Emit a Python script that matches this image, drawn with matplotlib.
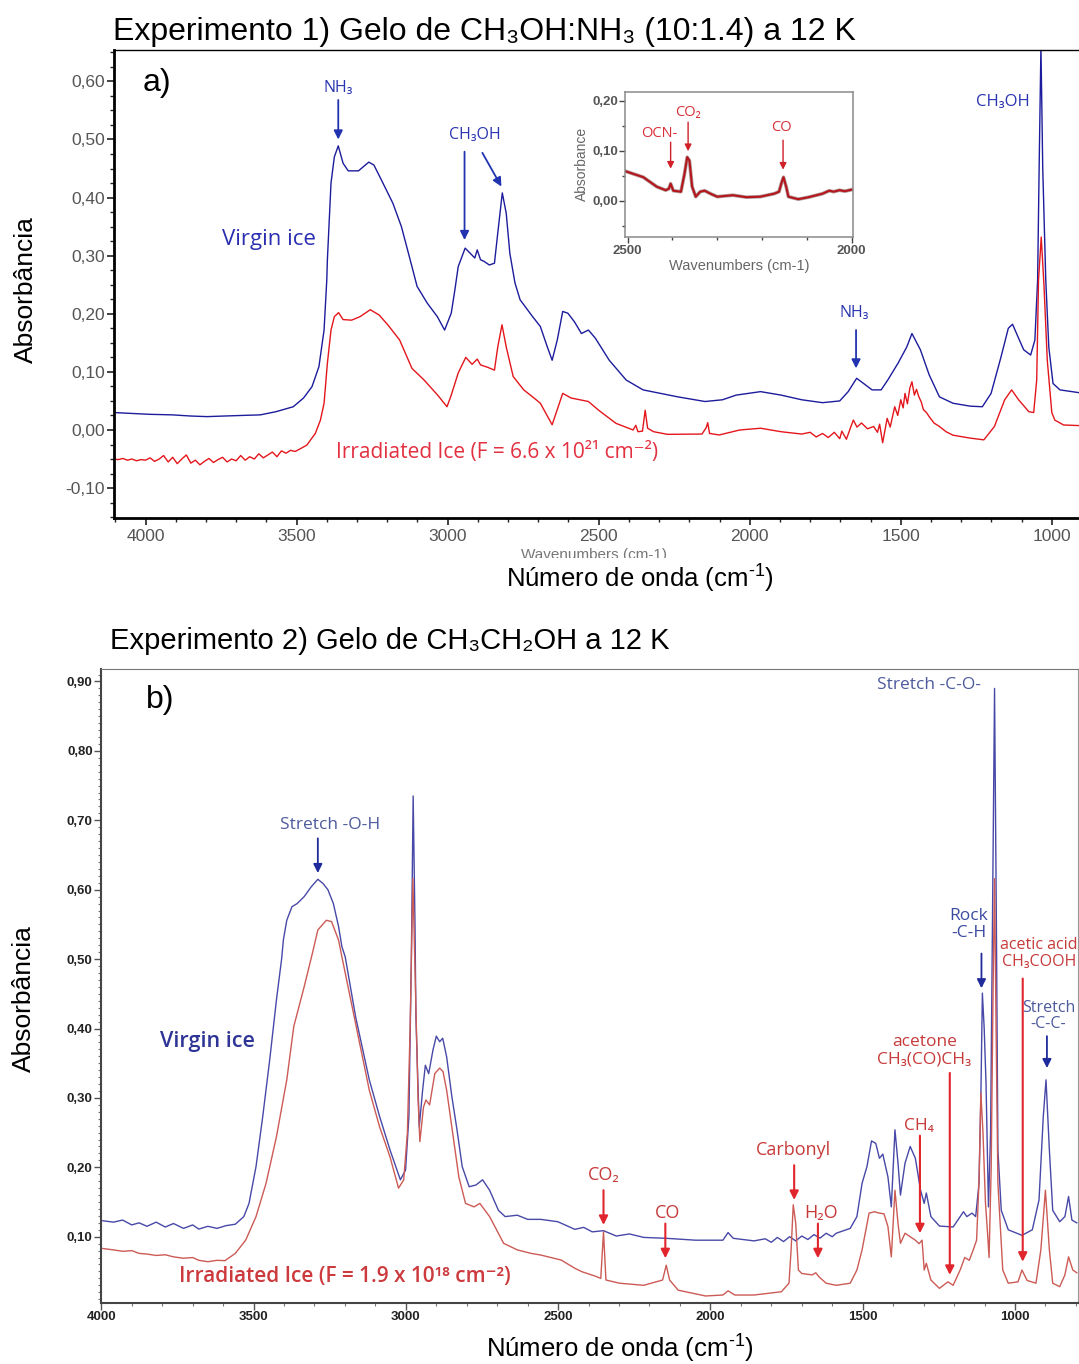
import matplotlib
matplotlib.use("Agg")
import matplotlib.pyplot as plt
from matplotlib.ticker import MultipleLocator, FuncFormatter, FixedLocator
from matplotlib.transforms import Bbox, TransformedBbox

plt.rcParams['font.family'] = ['Liberation Sans', 'DejaVu Sans']
plt.rcParams['mathtext.fontset'] = 'custom'
plt.rcParams['mathtext.rm'] = 'Liberation Sans'
plt.rcParams['mathtext.it'] = 'Liberation Sans:italic'
plt.rcParams['mathtext.bf'] = 'Liberation Sans:bold'
ANN = ['Open Sans', 'DejaVu Sans']

# ---------------- Panel a data (Experimento 1) ----------------
a_virgin_w = [4104, 3990, 3911, 3850, 3796, 3740, 3682, 3620, 3568, 3511, 3477, 3449, 3426, 3409, 3400,
              3398, 3386, 3375, 3362, 3346, 3329, 3295, 3261, 3244, 3216, 3181, 3153, 3124, 3101, 3067,
              3034, 3010, 2988, 2976, 2965, 2942, 2925, 2910, 2902, 2891, 2879, 2862, 2845, 2834, 2819,
              2806, 2794, 2777, 2760, 2720, 2693, 2670, 2654, 2637, 2619, 2602, 2580, 2557, 2534, 2511,
              2465, 2409, 2353, 2238, 2148, 2090, 2045, 1964, 1896, 1828, 1759, 1702, 1674, 1646, 1623,
              1595, 1565, 1543, 1509, 1480, 1463, 1446, 1435, 1406, 1372, 1327, 1270, 1230, 1201, 1168,
              1144, 1130, 1110, 1093, 1070, 1056, 1047, 1042, 1036, 1030, 1020, 1010, 996, 973, 907]
a_virgin_y = [0.030, 0.027, 0.026, 0.024, 0.023, 0.024, 0.025, 0.026, 0.0315, 0.040, 0.055, 0.0745, 0.109, 0.172, 0.258,
              0.293, 0.425, 0.470, 0.489, 0.459, 0.446, 0.446, 0.461, 0.456, 0.427, 0.390, 0.350, 0.293, 0.247, 0.218,
              0.195, 0.172, 0.201, 0.241, 0.281, 0.313, 0.304, 0.296, 0.310, 0.293, 0.290, 0.284, 0.287, 0.339, 0.408,
              0.373, 0.304, 0.253, 0.224, 0.196, 0.178, 0.143, 0.120, 0.155, 0.204, 0.201, 0.186, 0.166, 0.172, 0.158,
              0.120, 0.086, 0.069, 0.057, 0.049, 0.052, 0.060, 0.066, 0.060, 0.052, 0.047, 0.050, 0.066, 0.089, 0.080,
              0.069, 0.069, 0.086, 0.115, 0.143, 0.166, 0.149, 0.138, 0.095, 0.057, 0.046, 0.041, 0.040, 0.063, 0.126,
              0.175, 0.182, 0.158, 0.138, 0.129, 0.155, 0.258, 0.450, 0.660, 0.450, 0.258, 0.143, 0.080, 0.069, 0.064]

a_irr_w = [4104, 4090, 4075, 4060, 4045, 4030, 4015, 4000, 3985, 3970, 3955, 3940, 3925, 3910, 3895, 3880,
           3865, 3850, 3835, 3820, 3805, 3790, 3775, 3760, 3745, 3730, 3715, 3700, 3685, 3670, 3655, 3640,
           3625, 3610, 3595, 3580, 3565, 3550, 3535, 3520, 3505, 3490, 3466, 3438, 3421, 3409, 3398, 3386,
           3375, 3361, 3346, 3318, 3290, 3256, 3227, 3198, 3159, 3118, 3078, 3033, 3002, 2988, 2965, 2940,
           2919, 2902, 2891, 2868, 2845, 2834, 2820, 2806, 2783, 2748, 2714, 2693, 2654, 2619, 2591, 2534,
           2500, 2443, 2386, 2377, 2370, 2355, 2346, 2338, 2318, 2272, 2158, 2144, 2139, 2133, 2101, 2033,
           1964, 1896, 1828, 1800, 1780, 1759, 1740, 1720, 1702, 1695, 1680, 1665, 1657, 1645, 1630, 1610,
           1590, 1577, 1570, 1560, 1545, 1535, 1520, 1510, 1500, 1492, 1486, 1478, 1470, 1463, 1455, 1448,
           1440, 1432, 1425, 1415, 1406, 1390, 1372, 1350, 1327, 1270, 1225, 1190, 1156, 1133, 1110, 1076,
           1060, 1050, 1044, 1035, 1026, 1015, 1000, 990, 961, 907]
a_irr_y = [-0.050, -0.051, -0.049, -0.052, -0.050, -0.053, -0.051, -0.052, -0.048, -0.054, -0.050, -0.044, -0.055, -0.047, -0.058, -0.050,
           -0.043, -0.057, -0.052, -0.060, -0.054, -0.049, -0.056, -0.051, -0.047, -0.055, -0.050, -0.053, -0.044, -0.052, -0.046, -0.050,
           -0.041, -0.048, -0.043, -0.038, -0.046, -0.036, -0.040, -0.035, -0.037, -0.033, -0.026, -0.006, 0.017, 0.046, 0.115, 0.172,
           0.195, 0.202, 0.190, 0.189, 0.195, 0.207, 0.198, 0.181, 0.155, 0.106, 0.086, 0.060, 0.040, 0.060, 0.098, 0.125,
           0.113, 0.122, 0.112, 0.108, 0.103, 0.143, 0.181, 0.143, 0.092, 0.069, 0.055, 0.046, 0.009, 0.063, 0.055, 0.049,
           0.034, 0.0115, 0.000, 0.008, -0.003, -0.002, 0.034, 0.003, -0.003, -0.0075, -0.007, 0.004, 0.0126, -0.006, -0.0086, 0.000,
           0.003, -0.003, -0.007, -0.004, -0.012, -0.006, -0.013, -0.004, -0.015, -0.002, -0.016, 0.006, 0.017, 0.005, 0.012, 0.002,
           0.006, -0.004, 0.010, -0.022, 0.020, 0.005, 0.040, 0.025, 0.052, 0.038, 0.063, 0.045, 0.072, 0.083, 0.060, 0.070,
           0.057, 0.048, 0.035, 0.030, 0.023, 0.012, 0.006, -0.003, -0.009, -0.014, -0.017, 0.006, 0.052, 0.069, 0.052, 0.0315,
           0.030, 0.086, 0.258, 0.332, 0.250, 0.120, 0.030, 0.017, 0.0086, 0.0075]

# inset (2500-2000 cm-1 of irradiated ice)
ins_w = [2505, 2465, 2435, 2415, 2408, 2404, 2398, 2381, 2373, 2367, 2362, 2356, 2348, 2338, 2328, 2315, 2300,
         2265, 2235, 2204, 2173, 2162, 2156, 2152, 2146, 2141, 2119, 2096, 2065, 2050, 2040, 2027, 2015, 2000]
ins_y = [0.059, 0.047, 0.028, 0.021, 0.024, 0.034, 0.020, 0.018, 0.054, 0.087, 0.080, 0.028, 0.008, 0.018, 0.020, 0.014, 0.008,
         0.011, 0.007, 0.008, 0.014, 0.018, 0.037, 0.047, 0.028, 0.008, 0.003, 0.007, 0.014, 0.020, 0.018, 0.021, 0.019, 0.022]

# ---------------- Panel b data (Experimento 2) ----------------
b_virgin_w = [3995, 3960, 3930, 3900, 3876, 3850, 3820, 3790, 3763, 3730, 3700, 3680, 3650, 3620, 3590, 3560,
              3532, 3515, 3492, 3470, 3447, 3425, 3408, 3402, 3391, 3374, 3357, 3334, 3311, 3289, 3272, 3256,
              3238, 3221, 3210, 3199, 3165, 3120, 3086, 3052, 3018, 3001, 2990, 2982, 2976, 2970, 2967, 2956,
              2945, 2936, 2925, 2911, 2900, 2889, 2879, 2866, 2849, 2832, 2815, 2792, 2770, 2748, 2725, 2696,
              2674, 2634, 2600, 2557, 2501, 2445, 2416, 2388, 2351, 2309, 2266, 2219, 2145, 2049, 1959, 1942,
              1925, 1857, 1820, 1800, 1780, 1760, 1740, 1720, 1700, 1680, 1660, 1640, 1620, 1600, 1587, 1541,
              1519, 1502, 1486, 1471, 1457, 1445, 1434, 1417, 1406, 1394, 1384, 1376, 1361, 1344, 1327, 1310,
              1298, 1291, 1276, 1248, 1203, 1180, 1169, 1158, 1141, 1129, 1118, 1112, 1107, 1101, 1095, 1087,
              1080, 1074, 1067, 1061, 1056, 1045, 1022, 977, 943, 921, 907, 898, 887, 876, 853, 836,
              824, 813, 797]
b_virgin_y = [0.123, 0.121, 0.124, 0.117, 0.120, 0.115, 0.121, 0.114, 0.119, 0.112, 0.117, 0.111, 0.115, 0.112, 0.116, 0.118,
              0.129, 0.148, 0.201, 0.273, 0.355, 0.441, 0.500, 0.528, 0.556, 0.5755, 0.580, 0.590, 0.604, 0.615, 0.609, 0.600,
              0.580, 0.547, 0.518, 0.503, 0.417, 0.326, 0.273, 0.225, 0.182, 0.196, 0.273, 0.500, 0.735, 0.550, 0.417, 0.258,
              0.311, 0.347, 0.335, 0.369, 0.389, 0.381, 0.386, 0.359, 0.302, 0.254, 0.201, 0.172, 0.1745, 0.182, 0.167, 0.138,
              0.129, 0.131, 0.125, 0.125, 0.1216, 0.1106, 0.1135, 0.107, 0.1087, 0.101, 0.104, 0.099, 0.0977, 0.095, 0.095, 0.106,
              0.0977, 0.094, 0.097, 0.092, 0.099, 0.093, 0.100, 0.094, 0.101, 0.096, 0.103, 0.098, 0.105, 0.100, 0.105, 0.112,
              0.129, 0.177, 0.201, 0.238, 0.2345, 0.213, 0.219, 0.186, 0.143, 0.254, 0.206, 0.160, 0.206, 0.230, 0.213, 0.167,
              0.148, 0.163, 0.129, 0.1154, 0.114, 0.129, 0.136, 0.129, 0.134, 0.129, 0.177, 0.300, 0.451, 0.400, 0.321, 0.143,
              0.250, 0.550, 0.890, 0.550, 0.225, 0.138, 0.110, 0.102, 0.110, 0.153, 0.273, 0.326, 0.225, 0.138, 0.1216, 0.129,
              0.158, 0.124, 0.120]

b_irr_w = [3995, 3960, 3930, 3900, 3876, 3850, 3820, 3790, 3763, 3730, 3700, 3680, 3650, 3620, 3594, 3560,
           3526, 3492, 3459, 3425, 3391, 3368, 3334, 3306, 3289, 3261, 3244, 3221, 3208, 3165, 3120, 3086,
           3052, 3024, 3007, 2995, 2986, 2977, 2968, 2960, 2954, 2942, 2934, 2922, 2905, 2889, 2878, 2866,
           2849, 2826, 2804, 2776, 2757, 2725, 2679, 2634, 2589, 2557, 2490, 2445, 2422, 2377, 2360, 2351,
           2343, 2298, 2219, 2157, 2145, 2134, 2106, 2016, 1959, 1942, 1920, 1857, 1767, 1742, 1735, 1728,
           1720, 1711, 1700, 1666, 1654, 1643, 1620, 1587, 1541, 1519, 1502, 1479, 1462, 1445, 1430, 1417,
           1406, 1394, 1384, 1376, 1361, 1344, 1327, 1315, 1305, 1298, 1291, 1276, 1248, 1220, 1203, 1180,
           1165, 1150, 1137, 1126, 1118, 1112, 1105, 1097, 1090, 1085, 1078, 1072, 1067, 1062, 1056, 1040,
           1022, 990, 977, 960, 931, 915, 900, 887, 876, 853, 836, 824, 810, 797]
b_irr_y = [0.083, 0.081, 0.079, 0.080, 0.076, 0.075, 0.073, 0.074, 0.071, 0.069, 0.070, 0.066, 0.064, 0.066, 0.0655, 0.076,
           0.095, 0.129, 0.177, 0.244, 0.326, 0.403, 0.460, 0.510, 0.542, 0.556, 0.554, 0.5275, 0.499, 0.407, 0.311, 0.258,
           0.215, 0.170, 0.182, 0.250, 0.400, 0.616, 0.450, 0.300, 0.237, 0.287, 0.297, 0.290, 0.335, 0.343, 0.338, 0.311,
           0.258, 0.186, 0.148, 0.143, 0.148, 0.129, 0.0905, 0.081, 0.076, 0.0736, 0.0664, 0.0545, 0.0496, 0.043, 0.040, 0.107,
           0.0376, 0.033, 0.030, 0.0376, 0.059, 0.0376, 0.023, 0.0146, 0.016, 0.022, 0.016, 0.016, 0.0207, 0.033, 0.081, 0.146,
           0.120, 0.052, 0.047, 0.045, 0.048, 0.042, 0.033, 0.030, 0.033, 0.052, 0.081, 0.134, 0.136, 0.134, 0.133, 0.1144,
           0.071, 0.167, 0.119, 0.0905, 0.105, 0.100, 0.095, 0.090, 0.095, 0.052, 0.0617, 0.0376, 0.0256, 0.035, 0.030, 0.052,
           0.070, 0.066, 0.081, 0.095, 0.180, 0.307, 0.250, 0.150, 0.105, 0.070, 0.200, 0.450, 0.616, 0.400, 0.177, 0.052,
           0.033, 0.035, 0.052, 0.037, 0.033, 0.081, 0.167, 0.081, 0.033, 0.028, 0.045, 0.071, 0.052, 0.048]

x_ticks = [4000, 3500, 3000, 2500, 2000, 1500, 1000]
a_y_ticks = [-0.10, 0.00, 0.10, 0.20, 0.30, 0.40, 0.50, 0.60]
b_y_ticks = [0.10, 0.20, 0.30, 0.40, 0.50, 0.60, 0.70, 0.80, 0.90]
ins_y_ticks = [0.00, 0.10, 0.20]
ins_x_ticks = [2500, 2000]

W, H = 1079, 1364
fig = plt.figure(figsize=(W / 100, H / 100), dpi=100)


def fx(px):
    return px / W


def fy(py):
    return 1 - py / H


def comma(v, pos=None):
    s = f"{v:.2f}".replace('.', ',')
    return '0,00' if s == '-0,00' else s


# ================= Panel a =================
axA = fig.add_axes([fx(113.5), fy(518), fx(1079) - fx(113.5), fy(50) - fy(518)])
axA.set_xlim(4106, 910)
axA.set_ylim(-0.1515, 0.654)
axA.plot(a_virgin_w, a_virgin_y, color='#1c1c9c', lw=1.0)
axA.plot(a_irr_w, a_irr_y, color='#e3161c', lw=1.0)
axA.xaxis.set_major_locator(FixedLocator(x_ticks))
axA.xaxis.set_minor_locator(MultipleLocator(100))
axA.yaxis.set_major_locator(FixedLocator(a_y_ticks))
axA.yaxis.set_minor_locator(MultipleLocator(0.025))
axA.yaxis.set_major_formatter(FuncFormatter(comma))
axA.spines['right'].set_visible(False)
axA.spines['top'].set_linewidth(1.0)
axA.spines['left'].set_linewidth(2.0)
axA.spines['bottom'].set_linewidth(2.0)
axA.tick_params(axis='both', which='major', length=5, width=1.2, color='#222', labelcolor='#555555',
                labelsize=12.5, pad=1)
axA.tick_params(axis='both', which='minor', length=3, width=1.0, color='#222')
axA.tick_params(axis='x', which='major', pad=3)

axA.text(3961, 0.597, 'a)', fontsize=23, ha='center', va='center', color='black')
axA.text(3591, 0.328, 'Virgin ice', fontsize=16, family=ANN, color='#2a2fb0', ha='center', va='center')
axA.text(2835, -0.039, 'Irradiated Ice (F = 6.6 x 10²¹ cm⁻²)', fontsize=15, family=ANN,
         color='#e23040', ha='center', va='center')

blue_arrow = dict(arrowstyle='-|>', color='#2233b0', lw=1.3, shrinkA=0, shrinkB=0, mutation_scale=13)
axA.text(3362, 0.588, 'NH₃', fontsize=11.5, family=ANN, color='#2a35b0', ha='center', va='center')
axA.annotate('', xy=(3362, 0.500), xytext=(3362, 0.568), arrowprops=blue_arrow)
axA.text(2910, 0.508, 'CH₃OH', fontsize=11.5, family=ANN, color='#2a35b0', ha='center', va='center')
axA.annotate('', xy=(2944, 0.327), xytext=(2944, 0.479), arrowprops=blue_arrow)
axA.annotate('', xy=(2822, 0.419), xytext=(2885, 0.477), arrowprops=blue_arrow)
axA.text(1655, 0.201, 'NH₃', fontsize=11.5, family=ANN, color='#2a35b0', ha='center', va='center')
axA.annotate('', xy=(1648, 0.106), xytext=(1648, 0.172), arrowprops=blue_arrow)
axA.text(1162, 0.565, 'CH₃OH', fontsize=12, family=ANN, color='#2a35b0', ha='center', va='center')

# inset
axI = fig.add_axes([fx(625.4), fy(237), fx(852.7) - fx(625.4), fy(91.7) - fy(237)])
axI.set_xlim(2505, 1997.5)
axI.set_ylim(-0.0726, 0.218)
axI.plot(ins_w, ins_y, color='#3a0a0a', lw=2.6, alpha=0.4)
axI.plot(ins_w, ins_y, color='#b5151b', lw=1.5)
axI.xaxis.set_major_locator(FixedLocator(ins_x_ticks))
axI.xaxis.set_minor_locator(MultipleLocator(100))
axI.yaxis.set_major_locator(FixedLocator(ins_y_ticks))
axI.yaxis.set_minor_locator(MultipleLocator(0.05))
axI.yaxis.set_major_formatter(FuncFormatter(comma))
for s in axI.spines.values():
    s.set_color('#8a8a8a')
    s.set_linewidth(1.1)
axI.tick_params(axis='both', which='major', length=4, width=1.0, color='#444', labelcolor='#555555',
                labelsize=9.5, pad=1.5)
axI.tick_params(axis='both', which='minor', length=2.5, width=1.0, color='#444')
for lab in axI.get_xticklabels() + axI.get_yticklabels():
    lab.set_fontweight('bold')
axI.set_xlabel('Wavenumbers (cm-1)', fontsize=10.5, color='#666666', labelpad=2)
axI.set_ylabel('Absorbance', fontsize=10, color='#666666', labelpad=2)
red_arrow_s = dict(arrowstyle='-|>', color='#d02028', lw=1.0, shrinkA=0, shrinkB=0, mutation_scale=10)
axI.text(2430, 0.134, 'OCN-', fontsize=10.5, family=ANN, color='#d8303a', ha='center', va='center')
axI.annotate('', xy=(2404, 0.064), xytext=(2404, 0.117), arrowprops=red_arrow_s)
axI.text(2365, 0.176, 'CO₂', fontsize=10.5, family=ANN, color='#d8303a', ha='center', va='center')
axI.annotate('', xy=(2365, 0.099), xytext=(2365, 0.157), arrowprops=red_arrow_s)
axI.text(2157, 0.146, 'CO', fontsize=10.5, family=ANN, color='#d8303a', ha='center', va='center')
axI.annotate('', xy=(2153, 0.062), xytext=(2153, 0.121), arrowprops=red_arrow_s)

# ================= Panel b =================
axB = fig.add_axes([fx(101), fy(1303), fx(1078) - fx(101), fy(669) - fy(1303)])
axB.set_xlim(4001, 793)
axB.set_ylim(0.0045, 0.918)
axB.plot(b_virgin_w, b_virgin_y, color='#4848a8', lw=1.0)
axB.plot(b_irr_w, b_irr_y, color='#cc5a55', lw=1.0)
axB.xaxis.set_major_locator(FixedLocator(x_ticks))
axB.xaxis.set_minor_locator(MultipleLocator(100))
axB.yaxis.set_major_locator(FixedLocator(b_y_ticks))
axB.yaxis.set_minor_locator(MultipleLocator(0.01))
axB.yaxis.set_major_formatter(FuncFormatter(comma))
axB.spines['left'].set_color('#444')
axB.spines['left'].set_linewidth(1.5)
axB.spines['bottom'].set_color('#444')
axB.spines['bottom'].set_linewidth(1.5)
axB.spines['top'].set_color('#777')
axB.spines['right'].set_color('#999')
axB.tick_params(axis='both', which='major', length=5, width=1.0, color='#555', labelcolor='#222222',
                labelsize=9.5, pad=1)
axB.tick_params(axis='both', which='minor', length=2.5, width=0.8, color='#777')
for lab in axB.get_xticklabels() + axB.get_yticklabels():
    lab.set_fontweight('bold')

axB.text(3805, 0.874, 'b)', fontsize=23, ha='center', va='center', color='black')
axB.text(3650, 0.381, 'Virgin ice', fontsize=15.5, family=ANN, fontweight='semibold', color='#2e3596',
         ha='center', va='center')
axB.text(3199, 0.042, 'Irradiated Ice (F = 1.9 x 10¹⁸ cm⁻²)', fontsize=15, family=ANN,
         fontweight='semibold', color='#cc3a3e', ha='center', va='center')

bl_arrow = dict(arrowstyle='-|>', color='#1f2a9c', lw=1.3, shrinkA=0, shrinkB=0, mutation_scale=13)
rd_arrow = dict(arrowstyle='-|>', color='#e0262c', lw=1.5, shrinkA=0, shrinkB=0, mutation_scale=13)
lblue = '#4d5a9c'
lred = '#c73a3a'
axB.text(3250, 0.693, 'Stretch -O-H', fontsize=12.5, family=ANN, color=lblue, ha='center', va='center')
axB.annotate('', xy=(3289, 0.624), xytext=(3289, 0.674), arrowprops=bl_arrow)
axB.text(1282, 0.895, 'Stretch -C-O-', fontsize=12.5, family=ANN, color=lblue, ha='center', va='center')
axB.text(1152, 0.550, 'Rock\n-C-H', fontsize=12.5, family=ANN, color='#3a4aa0', ha='center', va='center',
         linespacing=1.05)
axB.annotate('', xy=(1110, 0.458), xytext=(1110, 0.508), arrowprops=bl_arrow)
axB.text(922, 0.508, 'acetic acid\nCH₃COOH', fontsize=11.5, family=ANN, color=lred, ha='center',
         va='center', linespacing=1.05)
axB.annotate('', xy=(974.5, 0.064), xytext=(974.5, 0.472), arrowprops=rd_arrow)
axB.text(890, 0.418, 'Stretch\n-C-C-', fontsize=11.5, family=ANN, color=lblue, ha='center', va='center',
         linespacing=1.05)
axB.annotate('', xy=(895, 0.343), xytext=(895, 0.389), arrowprops=bl_arrow)
axB.text(1298, 0.368, 'acetone\nCH₃(CO)CH₃', fontsize=12.5, family=ANN, color=lred, ha='center',
         va='center', linespacing=1.05)
axB.annotate('', xy=(1214, 0.045), xytext=(1214, 0.336), arrowprops=rd_arrow)
axB.text(1316, 0.260, 'CH₄', fontsize=12.5, family=ANN, color=lred, ha='center', va='center')
axB.annotate('', xy=(1312, 0.105), xytext=(1312, 0.2456), arrowprops=rd_arrow)
axB.text(1728, 0.225, 'Carbonyl', fontsize=13, family=ANN, color=lred, ha='center', va='center')
axB.annotate('', xy=(1725, 0.153), xytext=(1725, 0.203), arrowprops=rd_arrow)
axB.text(1637, 0.1346, 'H₂O', fontsize=13, family=ANN, color=lred, ha='center', va='center')
axB.annotate('', xy=(1647, 0.069), xytext=(1647, 0.119), arrowprops=rd_arrow)
axB.text(2142, 0.134, 'CO', fontsize=13, family=ANN, color=lred, ha='center', va='center')
axB.annotate('', xy=(2148, 0.069), xytext=(2148, 0.119), arrowprops=rd_arrow)
axB.text(2351, 0.189, 'CO₂', fontsize=13, family=ANN, color=lred, ha='center', va='center')
axB.annotate('', xy=(2351, 0.117), xytext=(2351, 0.167), arrowprops=rd_arrow)

# ================= Figure texts =================
fig.text(fx(113), fy(40), 'Experimento 1) Gelo de CH₃OH:NH₃ (10:1.4) a 12 K', fontsize=23,
         ha='left', va='baseline', color='black')
fig.text(fx(110), fy(649), 'Experimento 2) Gelo de CH₃CH₂OH a 12 K', fontsize=21,
         ha='left', va='baseline', color='black')
fig.text(fx(640), fy(588), 'Número de onda (cm$^{\u20101}$)', fontsize=18.5, ha='center', va='baseline')
fig.text(fx(620), fy(1358), 'Número de onda (cm$^{\u20101}$)', fontsize=18.5, ha='center', va='baseline')
fig.text(fx(26), fy(290), 'Absorbância', fontsize=19, rotation=90, ha='center', va='center')
fig.text(fx(24), fy(999), 'Absorbância', fontsize=19, rotation=90, ha='center', va='center')

# clipped remnant of the original axis label under panel a
t = fig.text(fx(594), fy(559.5), 'Wavenumbers (cm-1)', fontsize=11, color='#777777',
             ha='center', va='baseline')
t.set_clip_box(TransformedBbox(Bbox([[fx(490), fy(557.5)], [fx(700), fy(544)]]), fig.transFigure))
t.set_clip_on(True)

fig.savefig('out.png', dpi=100)
